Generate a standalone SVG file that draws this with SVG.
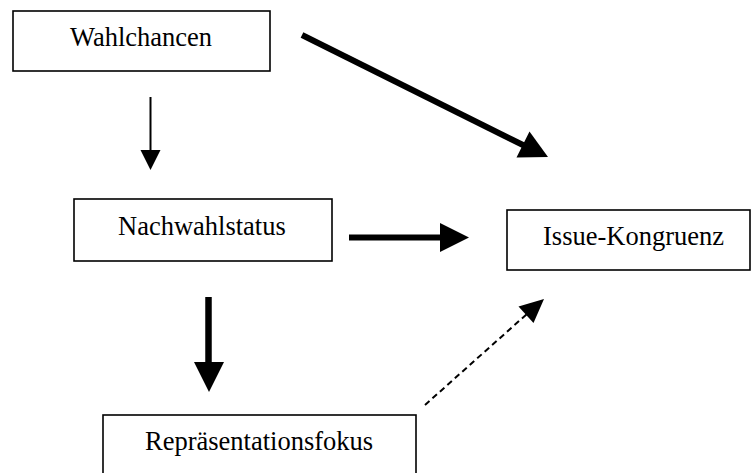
<svg xmlns="http://www.w3.org/2000/svg" width="752" height="473" viewBox="0 0 752 473">
<style>
.box{fill:#fff;stroke:#000;stroke-width:1.6}
.lbl{font-family:"Liberation Serif","Times New Roman",serif;font-size:26.5px;fill:#000}
.ln{stroke:#000;fill:none}
.hd{fill:#000;stroke:none}
</style>
<rect width="752" height="473" fill="#fff"/>
<g id="connectors">
<line class="ln" x1="150.5" y1="97" x2="150.5" y2="152" stroke-width="2"/>
<polygon class="hd" points="140.5,150 160.5,150 150.5,170"/>
<line class="ln" x1="302" y1="35" x2="525" y2="146" stroke-width="6"/>
<polygon class="hd" points="548,157 516.5,157.5 529.5,131.5"/>
<line class="ln" x1="349" y1="237.5" x2="442" y2="237.5" stroke-width="6"/>
<polygon class="hd" points="440,223 469,237.5 440,252"/>
<line class="ln" x1="208.5" y1="297" x2="208.5" y2="364" stroke-width="6.5"/>
<polygon class="hd" points="194,362 224,362 209,392"/>
<line class="ln" x1="425" y1="405" x2="528" y2="313" stroke-width="2" stroke-dasharray="6,4"/>
<polygon class="hd" points="544,299 533.5,323 518.5,306.5"/>
</g>
<g id="wahlchancen">
<rect class="box" x="13" y="11" width="257" height="60"/>
<text class="lbl" x="70" y="46">Wahlchancen</text>
</g>
<g id="nachwahlstatus">
<rect class="box" x="74" y="199" width="258" height="62"/>
<text class="lbl" x="118" y="235">Nachwahlstatus</text>
</g>
<g id="issue-kongruenz">
<rect class="box" x="507" y="210" width="243" height="60"/>
<text class="lbl" x="543" y="245">Issue-Kongruenz</text>
</g>
<g id="repraesentationsfokus">
<rect class="box" x="103" y="415" width="313" height="70"/>
<text class="lbl" x="145" y="450">Repräsentationsfokus</text>
</g>
</svg>
